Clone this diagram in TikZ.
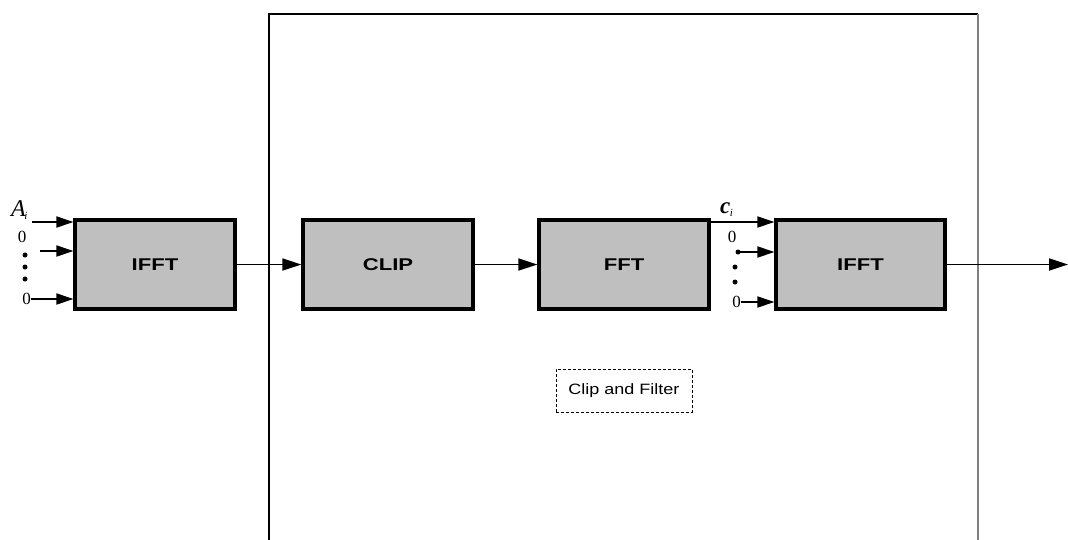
\documentclass[tikz,border=0pt]{standalone}
\usepackage{fontspec}
\usepackage{graphicx}
\setmainfont{Liberation Serif}
\setsansfont{Liberation Sans}
\usetikzlibrary{arrows.meta}
\tikzset{
  blk/.style={draw=black, line width=3.2pt, fill=black!25, minimum height=89pt, inner sep=0pt,
    font=\fontsize{17}{18}\selectfont\sffamily\bfseries},
  sig/.style={line width=1.8pt, -{Triangle[length=19pt,width=12pt]}},
  inp/.style={line width=1.8pt, -{Triangle[length=17pt,width=11pt]}},
  zero/.style={inner sep=0pt, font=\fontsize{17}{17}\selectfont},
  dotc/.style={circle, fill=black, inner sep=0pt, minimum size=5pt},
}
\begin{document}
\begin{tikzpicture}[x=1pt,y=-1pt]
\useasboundingbox (0,0) rectangle (1068,539);
% enclosing frame
\coordinate (fbl) at (269,545);
\coordinate (ftl) at (269,14);
\coordinate (ftr) at (978,14);
\coordinate (fbr) at (978,545);
\draw[line width=1.5pt] (fbl) -- (ftl) -- (ftr);
\draw[line width=1.8pt, black!50] (ftr) -- (fbr);
% blocks
\node[blk, minimum width=160pt] (ifft1) at (155,264.5) {\scalebox{1.3}[1]{IFFT}};
\node[blk, minimum width=170pt] (clip) at (388,264.5) {\scalebox{1.3}[1]{CLIP}};
\node[blk, minimum width=170pt] (fft) at (624,264.5) {\scalebox{1.3}[1]{FFT}};
\node[blk, minimum width=169pt] (ifft2) at (860.5,264.5) {\scalebox{1.3}[1]{IFFT}};
% main connectors
\draw[sig] (ifft1.east) -- (clip.west);
\draw[sig] (clip.east) -- (fft.west);
\coordinate (out) at (1068,264.5);
\draw[sig] (ifft2.east) -- (out);
% inputs of first IFFT
\node[inner sep=0pt, anchor=base west, font=\fontsize{24}{24}\selectfont\itshape] (ai) at (11,216) {A\kern-1.5pt\raisebox{-3pt}{\fontsize{11}{11}\selectfont i}};
\coordinate (a1s) at (32,222);
\draw[inp] (a1s) -- (ifft1.west |- a1s);
\node[zero] (z1) at (22,237) {0};
\coordinate (a2s) at (40,251);
\draw[inp] (a2s) -- (ifft1.west |- a2s);
\node[dotc] (d1) at (25,255) {};
\node[dotc] (d2) at (25,267) {};
\node[dotc] (d3) at (25,279) {};
\node[zero, anchor=east] (z2) at (31,299) {0};
\draw[inp] (z2.east) -- (ifft1.west |- z2.east);
% inputs of second IFFT
\node[inner sep=0pt, anchor=base west, font=\fontsize{23}{23}\selectfont\bfseries\itshape] (ci) at (720,213) {c\kern-0.5pt\raisebox{-3pt}{\fontsize{11}{11}\selectfont\mdseries i}};
\coordinate (c1s) at (fft.east |- 0,222);
\draw[inp] (c1s) -- (ifft2.west |- c1s);
\node[zero] (z3) at (732,237) {0};
\node[dotc] (e1) at (738,252) {};
\draw[inp] (e1.center) -- (ifft2.west |- e1.center);
\node[dotc] (e2) at (735,267) {};
\node[dotc] (e3) at (735,282) {};
\node[zero, anchor=east] (z4) at (741,302) {0};
\draw[inp] (z4.east) -- (ifft2.west |- z4.east);
% label box
\node[draw, densely dashed, line width=0.8pt, minimum width=136pt, minimum height=43pt, inner sep=0pt,
  font=\fontsize{15}{15}\selectfont\sffamily] (cf) at (624,390.5) {\scalebox{1.2}[1]{Clip and Filter}};
\end{tikzpicture}
\end{document}
